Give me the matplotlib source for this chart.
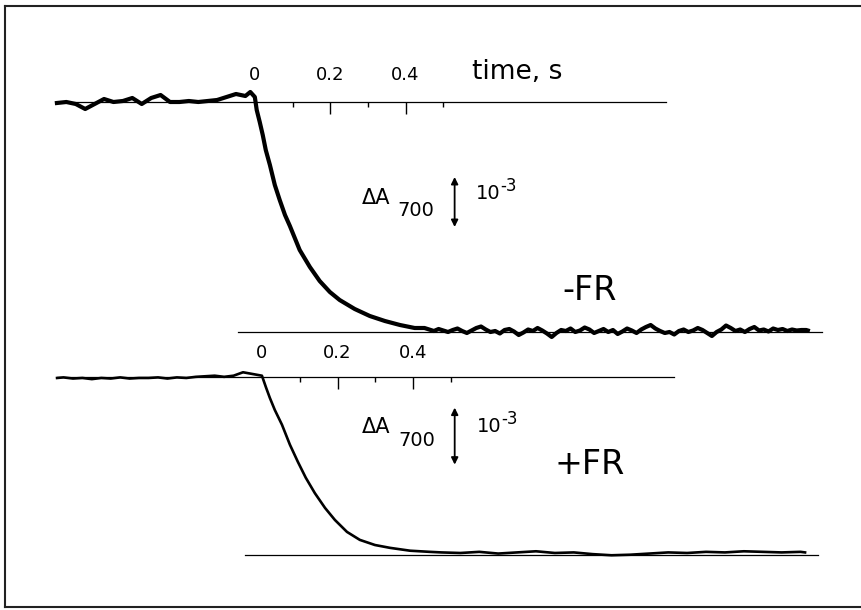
import matplotlib.pyplot as plt
from matplotlib.lines import Line2D

# P700 absorbance traces, time in s, ΔA700 in units of 1e-3
minus_t = [-0.525, -0.5, -0.475, -0.45, -0.425, -0.4, -0.375, -0.35, -0.325, -0.3,
           -0.275, -0.25, -0.225, -0.2, -0.175, -0.15, -0.125, -0.1, -0.075, -0.05,
           -0.025, -0.012, 0.0, 0.005, 0.013, 0.021, 0.029, 0.040, 0.053, 0.066,
           0.080, 0.093, 0.119, 0.146, 0.172, 0.199, 0.225, 0.265, 0.305, 0.345,
           0.385, 0.424,
           0.45, 0.4625, 0.475, 0.4875, 0.5, 0.5125, 0.525, 0.5375,
           0.55, 0.5625, 0.575, 0.5875, 0.6, 0.6125, 0.625, 0.6375,
           0.65, 0.6625, 0.675, 0.6875, 0.7, 0.7125, 0.725, 0.7375,
           0.75, 0.7625, 0.775, 0.7875, 0.8, 0.8125, 0.825, 0.8375,
           0.85, 0.8625, 0.875, 0.8875, 0.9, 0.9125, 0.925, 0.9375,
           0.95, 0.9625, 0.975, 0.9875, 1.0, 1.0125, 1.025, 1.0375,
           1.05, 1.0625, 1.075, 1.0875, 1.1, 1.1125, 1.125, 1.1375,
           1.15, 1.1625, 1.175, 1.1875, 1.2, 1.2125, 1.225, 1.2375,
           1.25, 1.2625, 1.275, 1.2875, 1.3, 1.3125, 1.325, 1.3375,
           1.35, 1.3625, 1.375, 1.3875, 1.4, 1.4125, 1.425, 1.4375,
           1.45, 1.4625, 1.467]
minus_a = [-0.02, 0.0, -0.04, -0.14, -0.04, 0.06, 0.0, 0.02, 0.08, -0.04,
           0.08, 0.14, 0.0, 0.0, 0.02, 0.0, 0.02, 0.04, 0.10, 0.16,
           0.12, 0.20, 0.10, -0.16, -0.40, -0.66, -0.96, -1.26, -1.66, -1.96,
           -2.26, -2.48, -2.96, -3.30, -3.58, -3.80, -3.96, -4.14, -4.28, -4.38,
           -4.46, -4.52,
           -4.52, -4.55, -4.58, -4.54, -4.57, -4.60, -4.56, -4.53,
           -4.58, -4.62, -4.57, -4.52, -4.49, -4.55, -4.60, -4.58,
           -4.63, -4.56, -4.54, -4.59, -4.66, -4.61, -4.55, -4.58,
           -4.52, -4.57, -4.63, -4.70, -4.62, -4.56, -4.58, -4.53,
           -4.60, -4.57, -4.51, -4.55, -4.62, -4.58, -4.54, -4.60,
           -4.56, -4.64, -4.59, -4.53, -4.57, -4.62, -4.55, -4.50,
           -4.46, -4.53, -4.58, -4.62, -4.60, -4.65, -4.58, -4.55,
           -4.60, -4.57, -4.52, -4.56, -4.62, -4.68, -4.60, -4.55,
           -4.47, -4.52, -4.58, -4.55, -4.60, -4.54, -4.50, -4.57,
           -4.55, -4.59, -4.53, -4.56, -4.54, -4.58, -4.55, -4.57,
           -4.56, -4.56, -4.57]

plus_t = [-0.542, -0.525, -0.5, -0.475, -0.45, -0.425, -0.4, -0.375, -0.35, -0.325,
          -0.3, -0.275, -0.25, -0.225, -0.2, -0.175, -0.15, -0.125, -0.1, -0.075,
          -0.05, -0.025, 0.0, 0.011, 0.021, 0.034, 0.053, 0.074, 0.095, 0.116,
          0.140, 0.167, 0.193, 0.225, 0.259, 0.299, 0.339, 0.392, 0.444, 0.475,
          0.525, 0.575, 0.625, 0.675, 0.725, 0.775, 0.825, 0.875, 0.925, 0.975,
          1.025, 1.075, 1.125, 1.175, 1.225, 1.275, 1.325, 1.375, 1.425, 1.437]
plus_a = [-0.02, -0.01, -0.03, -0.02, -0.04, -0.02, -0.03, -0.01, -0.03, -0.02,
          -0.02, -0.01, -0.03, -0.01, -0.02, 0.0, 0.01, 0.02, 0.0, 0.02,
          0.08, 0.05, 0.02, -0.19, -0.37, -0.58, -0.84, -1.19, -1.49, -1.77,
          -2.04, -2.30, -2.51, -2.72, -2.86, -2.95, -3.00, -3.05, -3.07, -3.08,
          -3.09, -3.07, -3.10, -3.08, -3.06, -3.09, -3.08, -3.11, -3.13, -3.12,
          -3.10, -3.08, -3.09, -3.07, -3.08, -3.06, -3.07, -3.08, -3.07, -3.08]

minus_levels = [0.0, -4.6]
plus_levels = [0.0, -3.12]
major_ticks = [0.2, 0.4]
minor_ticks = [0.1, 0.3, 0.5]
label_times = [0.0, 0.2, 0.4]
tick_labels = ["0", "0.2", "0.4"]

FONT = "DejaVu Sans"

fig = plt.figure(figsize=(8.61, 6.10), dpi=100)
ax1 = fig.add_axes([0, 0, 1, 1])
ax2 = fig.add_axes([0, 0, 1, 1])
for ax in (ax1, ax2):
    ax.set_axis_off()
    ax.patch.set_alpha(0)

ax1.set_xlim(-0.676, 1.608)
ax1.set_ylim(-10.16, 2.04)
ax2.set_xlim(-0.693, 1.585)
ax2.set_ylim(-4.09, 6.61)


def panel(ax, t, a, levels, trace_lw, unit_h, name, p):
    # baseline before the flash and level after oxidation
    ax.plot([t[0], 1.09], [levels[0]] * 2, color="black", lw=0.9)
    ax.plot([-0.045, p["end"]], [levels[1]] * 2, color="black", lw=0.9)
    ax.plot(t, a, color="black", lw=trace_lw, solid_joinstyle="round")
    # time ticks hanging under the baseline
    ax.vlines(major_ticks, levels[0] - 12 / unit_h, levels[0], color="black", lw=1.0)
    ax.vlines(minor_ticks, levels[0] - 5 / unit_h, levels[0], color="black", lw=1.0)
    for x, s in zip(label_times, tick_labels):
        ax.text(x, p["lab_y"], s, ha="center", va="center", fontsize=13, family=FONT)
    # scale bar 1e-3
    ax.annotate("", xy=(p["arr_x"], p["arr_y"] - 1.0), xytext=(p["arr_x"], p["arr_y"]),
                arrowprops=dict(arrowstyle="<|-|>", color="black", lw=1.3,
                                mutation_scale=10, shrinkA=0, shrinkB=0))
    ax.text(p["da_x"], p["da_y"], "ΔA", ha="left", va="center", fontsize=15, family=FONT)
    ax.text(p["sub_x"], p["sub_y"], "700", ha="left", va="center", fontsize=14, family=FONT)
    ax.text(p["ten_x"], p["ten_y"], "10", ha="left", va="center", fontsize=14, family=FONT)
    ax.text(p["exp_x"], p["exp_y"], "-3", ha="left", va="center", fontsize=12, family=FONT)
    ax.text(p["name_x"], p["name_y"], name, ha="center", va="center", fontsize=24, family=FONT)


panel(ax1, minus_t, minus_a, minus_levels, 3.0, 50, "-FR",
      dict(end=1.504, lab_y=0.54, arr_x=0.53, arr_y=-1.5,
           da_x=0.284, da_y=-1.92, sub_x=0.379, sub_y=-2.18,
           ten_x=0.586, ten_y=-1.84, exp_x=0.650, exp_y=-1.68,
           name_x=0.889, name_y=-3.76))
panel(ax2, plus_t, plus_a, plus_levels, 1.9, 57, "+FR",
      dict(end=1.471, lab_y=0.42, arr_x=0.51, arr_y=-0.54,
           da_x=0.265, da_y=-0.88, sub_x=0.36, sub_y=-1.12,
           ten_x=0.568, ten_y=-0.88, exp_x=0.632, exp_y=-0.74,
           name_x=0.868, name_y=-1.54))

ax1.text(0.695, 0.6, "time, s", ha="center", va="center", fontsize=19, family=FONT)

# frame around the figure
W, H = 861, 610
for xs, ys in [([5, 5], [6, 607]), ([5, W], [6, 6]), ([5, W], [607, 607])]:
    fig.add_artist(Line2D([x / W for x in xs], [1 - y / H for y in ys],
                          transform=fig.transFigure, color="#222222", lw=1.5))

fig.savefig("out.png", dpi=100)
